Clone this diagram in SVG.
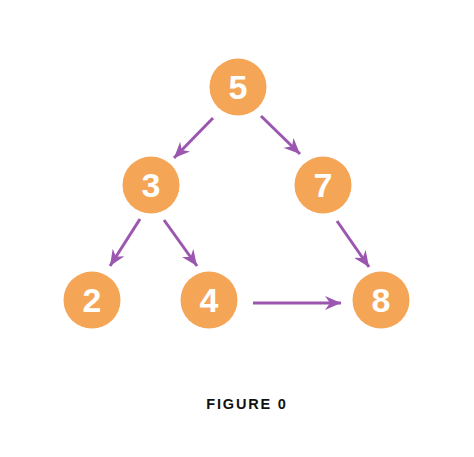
<svg xmlns="http://www.w3.org/2000/svg" width="474" height="457" viewBox="0 0 474 457">
<defs>
<marker id="ah" markerUnits="userSpaceOnUse" markerWidth="18" markerHeight="14" refX="16" refY="7" orient="auto">
<path d="M0,0 L16,7 L0,14 L5,7 z" fill="#9B57B0"/>
</marker>
<style>
.n circle{fill:#F5A556;}
.n text{fill:#fff;font-family:"Liberation Sans",Arial,sans-serif;font-weight:bold;font-size:34px;text-anchor:middle;}
.e line{stroke:#9B57B0;stroke-width:3;marker-end:url(#ah);}
</style>
</defs>
<rect width="474" height="457" fill="#fff"/>
<g id="edges" class="e">
<line x1="213" y1="118" x2="174" y2="158"/>
<line x1="261" y1="116" x2="300" y2="154"/>
<line x1="140" y1="219" x2="110" y2="266"/>
<line x1="164" y1="220" x2="197" y2="266"/>
<line x1="337" y1="221" x2="369" y2="267"/>
<line x1="253" y1="303" x2="341" y2="303"/>
</g>
<g id="n5" class="n"><circle cx="238" cy="87" r="28.5"/><text x="238" y="99">5</text></g>
<g id="n3" class="n"><circle cx="151" cy="185" r="28.5"/><text x="151" y="197">3</text></g>
<g id="n7" class="n"><circle cx="323" cy="185" r="28.5"/><text x="323" y="197">7</text></g>
<g id="n2" class="n"><circle cx="92" cy="300" r="28.5"/><text x="92" y="312">2</text></g>
<g id="n4" class="n"><circle cx="209" cy="300" r="28.5"/><text x="209" y="312">4</text></g>
<g id="n8" class="n"><circle cx="381" cy="300" r="28.5"/><text x="381" y="312">8</text></g>
<text x="247" y="409" font-family="Liberation Sans,Arial,sans-serif" font-weight="bold" font-size="14.5" letter-spacing="1.8" text-anchor="middle" fill="#111">FIGURE 0</text>
</svg>
